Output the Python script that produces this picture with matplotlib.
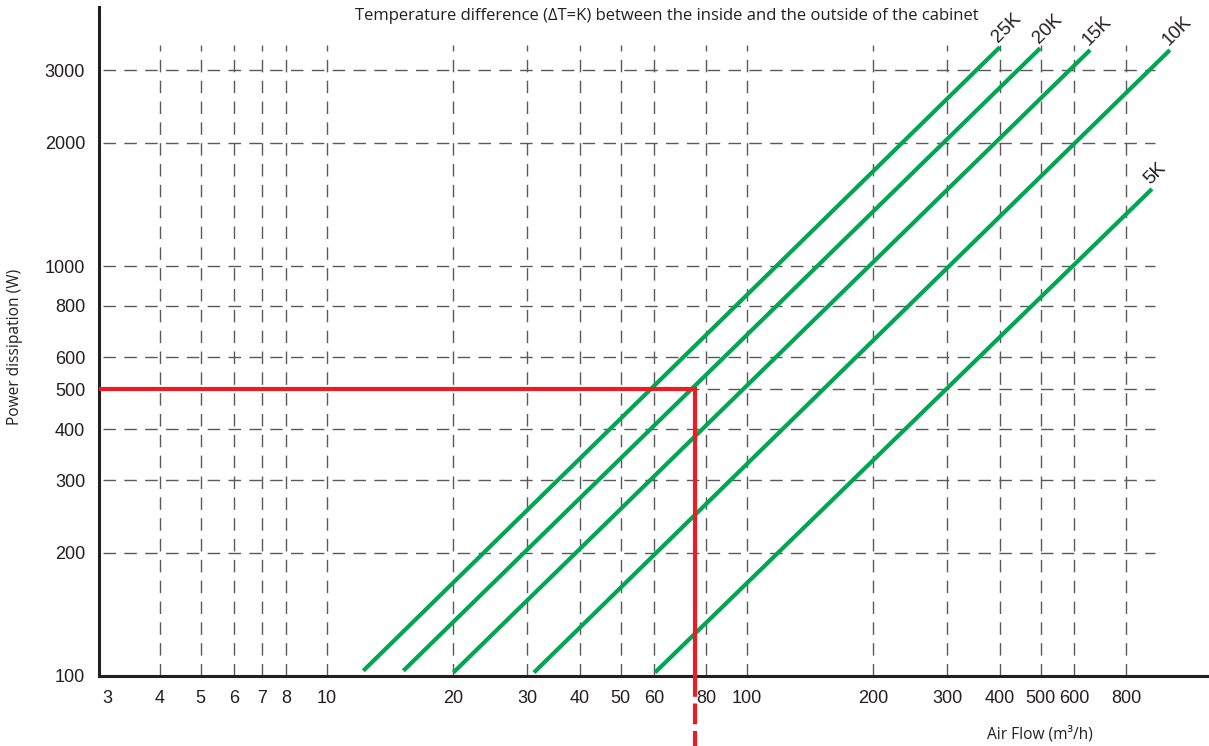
import matplotlib.pyplot as plt
from matplotlib.ticker import FixedLocator, FixedFormatter, NullLocator

# Axis ticks (log-log chart)
air_flow_ticks = [3, 4, 5, 6, 7, 8, 10, 20, 30, 40, 50, 60, 80, 100, 200, 300, 400, 500, 600, 800]
power_ticks = [100, 200, 300, 400, 500, 600, 800, 1000, 2000, 3000]

# Temperature difference lines: start / end points
delta_t_labels = ["25K", "20K", "15K", "10K", "5K"]
line_flow_start = [12.2, 15.2, 20.0, 31.1, 60.4]
line_power_start = [103, 103, 102, 102, 102]
line_flow_end = [400, 499, 656, 1016, 921]
line_power_end = [3420, 3400, 3365, 3365, 1542]

# Worked example: 500 W at 20K
example_flow = 75.2
example_power = 500

W, H = 1209, 746
fig = plt.figure(figsize=(W / 100, H / 100), dpi=100)
ax = fig.add_axes([99 / W, 1 - 676 / H, 1 - 99 / W, (676 - 7) / H])
ax.set_xscale('log')
ax.set_yscale('log')
ax.set_xlim(2.865, 1259)
ax.set_ylim(100, 4285)

label_font = 'Liberation Sans'
text_font = 'Open Sans'
green = '#00a651'
red = '#ed1c24'
grid_col = '#5a5a5a'

# Dashed grid, not covering the whole axes
grid_x = [v for v in air_flow_ticks if v != 3]
grid_y = [v for v in power_ticks if v != 100]
ax.vlines(grid_x, 100, 3460, colors=grid_col, linewidth=1.0, linestyles=(0, (9, 6)), zorder=1)
ax.hlines(grid_y, 2.93, 935, colors=grid_col, linewidth=1.0, linestyles=(0, (9, 6)), zorder=1)

# Green delta-T lines with rotated labels
for lab, x0, y0, x1, y1 in zip(delta_t_labels, line_flow_start, line_power_start,
                               line_flow_end, line_power_end):
    ax.plot([x0, x1], [y0, y1], color=green, linewidth=3.0, solid_capstyle='butt', zorder=3)
    ax.annotate(lab, xy=(x1, y1), xytext=(1, 1), textcoords='offset points',
                rotation=45, rotation_mode='anchor', ha='left', va='bottom',
                fontsize=13.5, family=label_font, color='#231f20')

# Red example path
x_left = ax.get_xlim()[0]
ax.plot([x_left, example_flow, example_flow], [example_power, example_power, 100],
        color=red, linewidth=3.0, solid_joinstyle='miter', zorder=4)
ax.plot([example_flow, example_flow], [100, 66], color=red, linewidth=3.0,
        dashes=(5, 1.6), clip_on=False, zorder=4)

# Spines and ticks
for s in ['top', 'right']:
    ax.spines[s].set_visible(False)
for s in ['left', 'bottom']:
    ax.spines[s].set_linewidth(2.2)
    ax.spines[s].set_color('#231f20')

ax.xaxis.set_major_locator(FixedLocator(air_flow_ticks))
ax.xaxis.set_major_formatter(FixedFormatter([str(v) for v in air_flow_ticks]))
ax.xaxis.set_minor_locator(NullLocator())
ax.yaxis.set_major_locator(FixedLocator(power_ticks))
ax.yaxis.set_major_formatter(FixedFormatter([str(v) for v in power_ticks]))
ax.yaxis.set_minor_locator(NullLocator())
ax.tick_params(axis='both', length=0, labelsize=13, colors='#231f20')
ax.tick_params(axis='x', pad=10)
ax.tick_params(axis='y', pad=10)
for t in ax.get_xticklabels() + ax.get_yticklabels():
    t.set_family(label_font)

# Texts
fig.text(667 / W, 1 - 16 / H,
         'Temperature difference (\u0394T=K) between the inside and the outside of the cabinet',
         ha='center', va='center', fontsize=12, family=text_font, color='#231f20')
fig.text(1040 / W, 1 - 734 / H, 'Air Flow (m\u00b3/h)', ha='center', va='center',
         fontsize=11.2, family=text_font, color='#231f20')
fig.text(15 / W, 1 - 347 / H, 'Power dissipation (W)', ha='center', va='center',
         rotation=90, fontsize=11.2, family=text_font, color='#231f20')

fig.savefig('out.png', dpi=100)
